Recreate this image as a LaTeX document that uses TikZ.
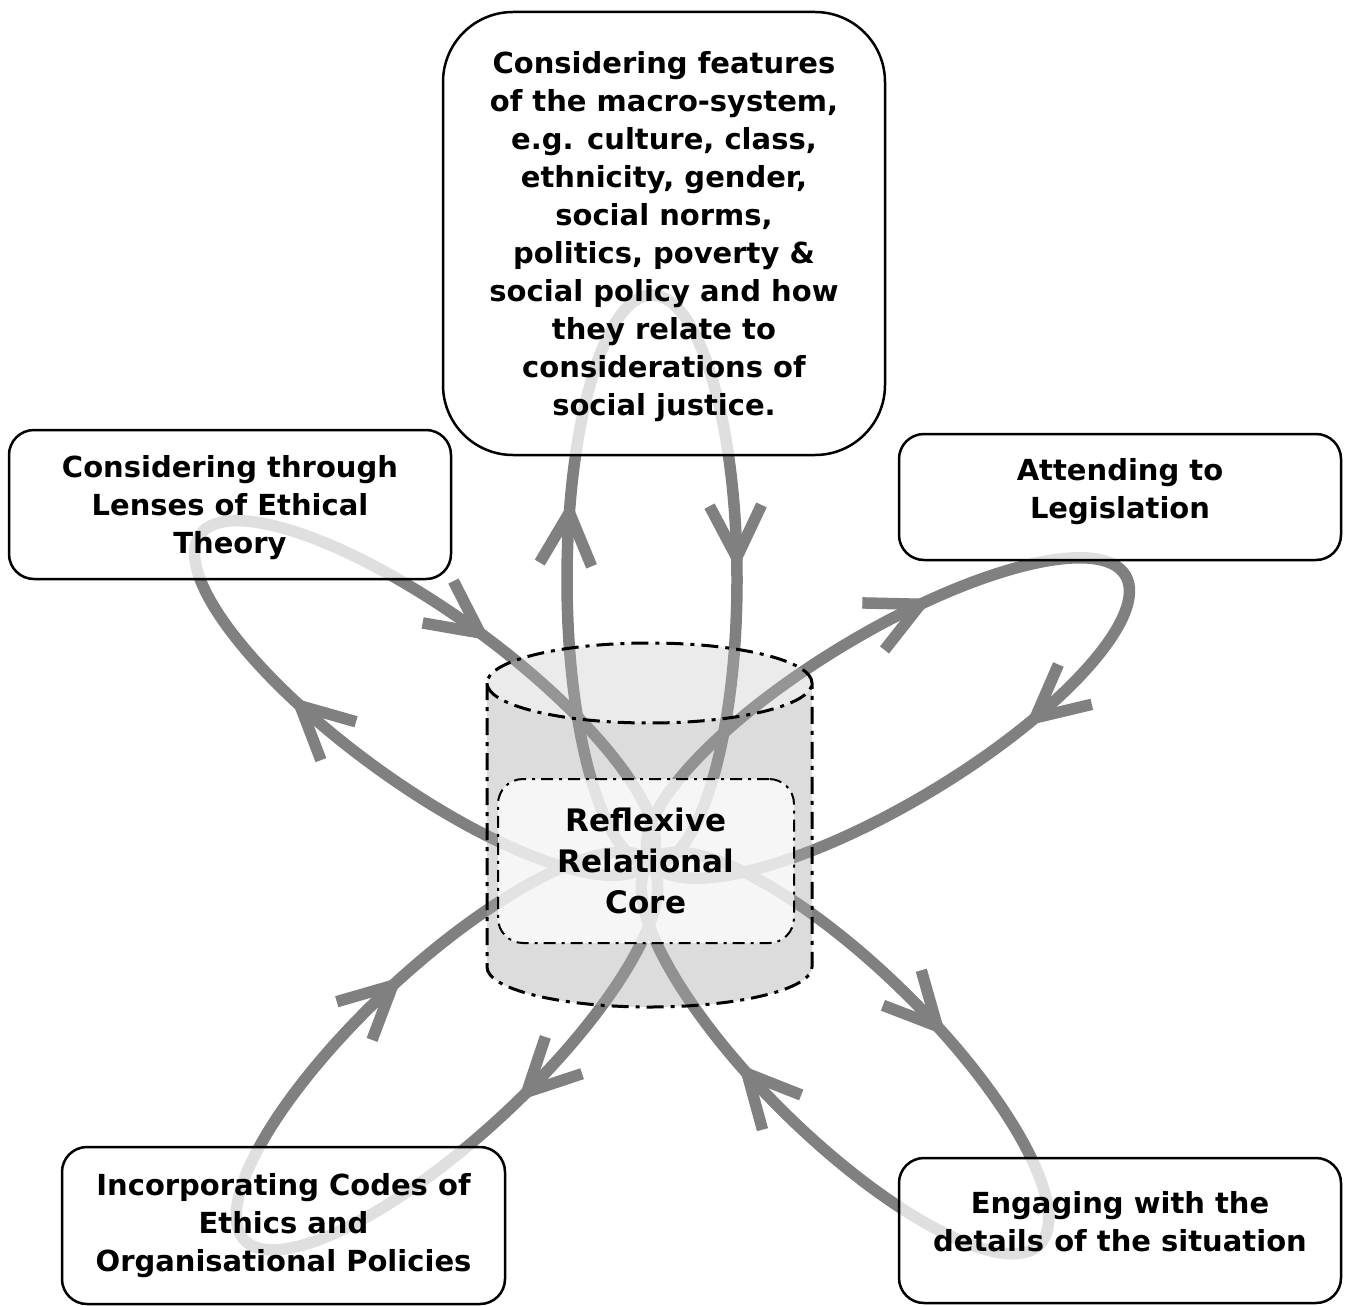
\documentclass[tikz,border=0pt]{standalone}
\usepackage{fontspec}
\setmainfont{DejaVu Sans}
\usetikzlibrary{decorations.markings}
\colorlet{loopgray}{black!50}
\colorlet{cylbody}{black!33}
\colorlet{cyltop}{black!24}
\tikzset{
  reflexloop/.style = {draw=loopgray,line width=11.5pt},
  loophead/.style = {draw=loopgray,line width=11.5pt,line cap=butt,line join=miter},
  heads/.style 2 args = {postaction={decorate,decoration={markings,
      mark=at position #1 with {\loophead},
      mark=at position #2 with {\loophead}}}},
  theme/.style = {draw,line width=2.5pt,rounded corners=25pt,fill=white,
    fill opacity=0.75,text opacity=1,align=center,
    font=\fontsize{29pt}{38pt}\selectfont\bfseries},
  coredash/.style = {line width=3pt,dash pattern=on 17pt off 7pt on 4pt off 7pt}
}
\newcommand{\loophead}{\draw[loophead] (52pt,26pt) -- (0pt,0pt) -- (52pt,-26pt);}

\begin{document}
\begin{tikzpicture}[x=1pt,y=1pt]
  \useasboundingbox (0,0) rectangle (1349,-1306);
  \draw[reflexloop,heads={0.196}{0.768}] (652,-580) ellipse [x radius=285pt,y radius=85pt,rotate=90];
  \draw[reflexloop,heads={0.179}{0.854}] (888,-718) ellipse [x radius=277pt,y radius=85pt,rotate=31];
  \draw[reflexloop,heads={0.171}{0.745}] (425,-698) ellipse [x radius=278pt,y radius=85pt,rotate=144];
  \draw[reflexloop,heads={0.211}{0.704}] (845,-1053) ellipse [x radius=273pt,y radius=85pt,rotate=-44.5];
  \draw[reflexloop,heads={0.275}{0.746}] (447,-1051) ellipse [x radius=277pt,y radius=85pt,rotate=223];
  \fill[cylbody,fill opacity=0.41] (487,-683) -- (487,-967) arc [start angle=180,end angle=360,x radius=162.5pt,y radius=40pt]
    -- (812,-683) arc [start angle=0,end angle=-180,x radius=162.5pt,y radius=40pt] -- cycle;
  \fill[cyltop,fill opacity=0.33] (649.5,-683) ellipse [x radius=162.5pt,y radius=40pt];
  \draw[coredash] (487,-683) -- (487,-967) arc [start angle=180,end angle=360,x radius=162.5pt,y radius=40pt] -- (812,-683);
  \draw[coredash] (649.5,-683) ellipse [x radius=162.5pt,y radius=40pt];
  \node[theme,line width=2pt,dash pattern=on 12pt off 6pt on 3pt off 6pt,minimum width=296pt,minimum height=164pt,
    font=\fontsize{31pt}{41pt}\selectfont\bfseries] (core) at (646,-861) {Reflexive\\Relational\\Core};
  \node[theme,rounded corners=70pt,minimum width=442pt,minimum height=443pt,text depth=1pt] (macro) at (664,-233.5)
    {Considering features\\of the macro-system,\\e.g. culture, class,\\ethnicity, gender,\\social norms,\\politics, poverty \&\\social policy and how\\they relate to\\considerations of\\social justice.};
  \node[theme,minimum width=442pt,minimum height=149pt,text depth=0pt] (ethics) at (230,-504.5) {Considering through\\Lenses of Ethical\\Theory};
  \node[theme,minimum width=442pt,minimum height=126pt,text depth=17pt] (law) at (1120,-497) {Attending to\\Legislation};
  \node[theme,minimum width=443pt,minimum height=157pt] (codes) at (283.5,-1225.5) {Incorporating Codes of\\Ethics and\\Organisational Policies};
  \node[theme,minimum width=442pt,minimum height=145pt,text depth=18pt] (details) at (1120,-1230.5) {Engaging with the\\details of the situation};
\end{tikzpicture}
\end{document}
